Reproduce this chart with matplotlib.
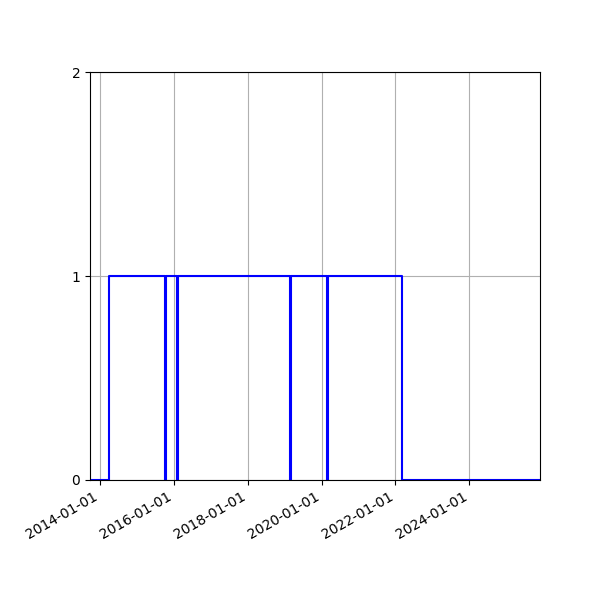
import matplotlib
matplotlib.use("Agg")
import matplotlib.pyplot as plt
import matplotlib.dates as mdates
import numpy as np

# state changes (date, value), drawn as a post step
dates = ['2013-09-24', '2014-03-31',
         '2015-10-10', '2015-10-16',
         '2016-02-03', '2016-02-08',
         '2019-02-27', '2019-03-04',
         '2020-02-25', '2020-03-01',
         '2022-03-02', '2025-11-30']
values = [0, 1,
          0, 1,
          0, 1,
          0, 1,
          0, 1,
          0, 0]
x_start = '2013-09-24'
x_end = '2025-11-30'
y_ticks = [0, 1, 2]

x = np.array(dates, dtype='datetime64[D]')

fig, ax = plt.subplots(figsize=(6, 6), dpi=100)
ax.plot(x, values, drawstyle='steps-post', color='blue', linewidth=1.5)

ax.set_xlim(np.datetime64(x_start), np.datetime64(x_end))
ax.set_ylim(0, 2)
ax.set_yticks(y_ticks)
ax.xaxis.set_major_locator(mdates.YearLocator(2))
ax.xaxis.set_major_formatter(mdates.DateFormatter('%Y-%m-%d'))
ax.grid(True)

fig.autofmt_xdate()
fig.subplots_adjust(left=0.15, right=0.9, top=0.88, bottom=0.2)

fig.savefig('out.png', dpi=100)
